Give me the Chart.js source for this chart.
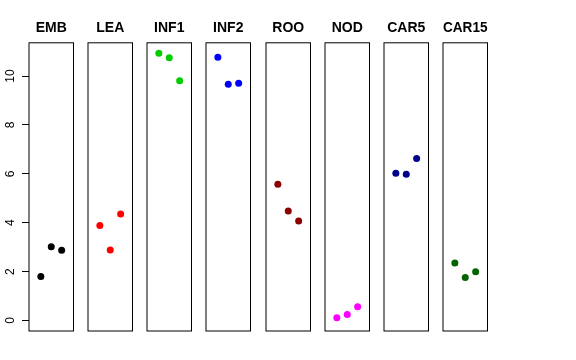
<!DOCTYPE html>
<html>
<head>
<meta charset="utf-8">
<script src="https://cdn.jsdelivr.net/npm/chart.js@4.4.1/dist/chart.umd.min.js"></script>
<style>
  body { margin: 0; background: #fff; }
  #wrap { position: relative; width: 576px; height: 360px; overflow: hidden; }
  #wrap canvas { position: absolute; top: 0; }
</style>
</head>
<body>
<div id="wrap"></div>
<script>
// groups, one panel each
var groups = ['EMB', 'LEA', 'INF1', 'INF2', 'ROO', 'NOD', 'CAR5', 'CAR15'];
var colors = ['#000000', '#ff0000', '#00cd00', '#0000ff', '#8b0000', '#ff00ff', '#00008b', '#006400'];

// replicate index along x inside each panel
var reps = [1, 2, 3];

// values read per group
var emb  = [1.80, 3.02, 2.87];
var lea  = [3.89, 2.88, 4.36];
var inf1 = [10.93, 10.75, 9.81];
var inf2 = [10.77, 9.66, 9.71];
var roo  = [5.57, 4.48, 4.07];
var nod  = [0.11, 0.25, 0.56];
var car5 = [6.02, 5.98, 6.63];
var car15 = [2.35, 1.76, 1.99];
var allValues = [emb, lea, inf1, inf2, roo, nod, car5, car15];

var yTicks = [0, 2, 4, 6, 8, 10];

var FONT = "'Liberation Sans', Arial, Helvetica, sans-serif";
var panelW = 44.5, firstLeft = 29, step = 59.14, side = 14, axisW = 29;

// draws the box round each panel
var boxPlugin = {
  id: 'panelBox',
  afterDraw: function(chart) {
    var a = chart.chartArea, ctx = chart.ctx;
    ctx.save();
    ctx.strokeStyle = '#000';
    ctx.lineWidth = 1;
    ctx.strokeRect(a.left, a.top, a.right - a.left, a.bottom - a.top);
    ctx.restore();
  }
};

var wrap = document.getElementById('wrap');

function makePanel(g) {
  var first = (g === 0);
  var left = firstLeft + g * step;
  var canvasLeft = first ? 0 : left - side;
  var canvasW = Math.round(first ? (axisW + panelW + side) : (panelW + side * 2));

  var cv = document.createElement('canvas');
  cv.width = canvasW;
  cv.height = 360;
  cv.style.left = canvasLeft + 'px';
  cv.style.width = canvasW + 'px';
  cv.style.height = '360px';
  wrap.appendChild(cv);

  var pts = [];
  for (var i = 0; i < reps.length; i++) {
    pts.push({x: reps[i], y: allValues[g][i]});
  }

  new Chart(cv.getContext('2d'), {
    type: 'scatter',
    data: {
      datasets: [{
        label: groups[g],
        data: pts,
        backgroundColor: colors[g],
        borderColor: colors[g],
        pointRadius: 3.5,
        pointBorderWidth: 0,
        pointHoverRadius: 3.5
      }]
    },
    options: {
      responsive: false,
      animation: false,
      events: [],
      layout: {
        padding: {
          top: 0,
          bottom: 29,
          left: first ? 0 : side,
          right: canvasW - (first ? axisW : side) - panelW
        }
      },
      plugins: {
        legend: { display: false },
        tooltip: { enabled: false },
        title: {
          display: true,
          text: groups[g],
          fullSize: false,
          color: '#000',
          font: { family: FONT, size: 14, weight: 'bold' },
          padding: { top: 20, bottom: 6 }
        }
      },
      scales: {
        x: {
          type: 'linear',
          min: -0.14,
          max: 4.14,
          display: false
        },
        y: {
          type: 'linear',
          min: -0.43,
          max: 11.36,
          display: first,
          afterBuildTicks: function(scale) {
            scale.ticks = yTicks.map(function(v) { return {value: v}; });
          },
          afterFit: function(scale) {
            if (first) scale.width = axisW;
          },
          border: { display: false },
          grid: {
            drawOnChartArea: false,
            drawTicks: true,
            tickLength: 7,
            tickColor: '#000',
            tickWidth: 1
          },
          ticks: {
            color: '#000',
            font: { family: FONT, size: 12 },
            minRotation: 90,
            maxRotation: 90,
            crossAlign: 'center',
            padding: 5
          }
        }
      }
    },
    plugins: [boxPlugin]
  });
}

for (var g = 0; g < groups.length; g++) {
  makePanel(g);
}
</script>
</body>
</html>
